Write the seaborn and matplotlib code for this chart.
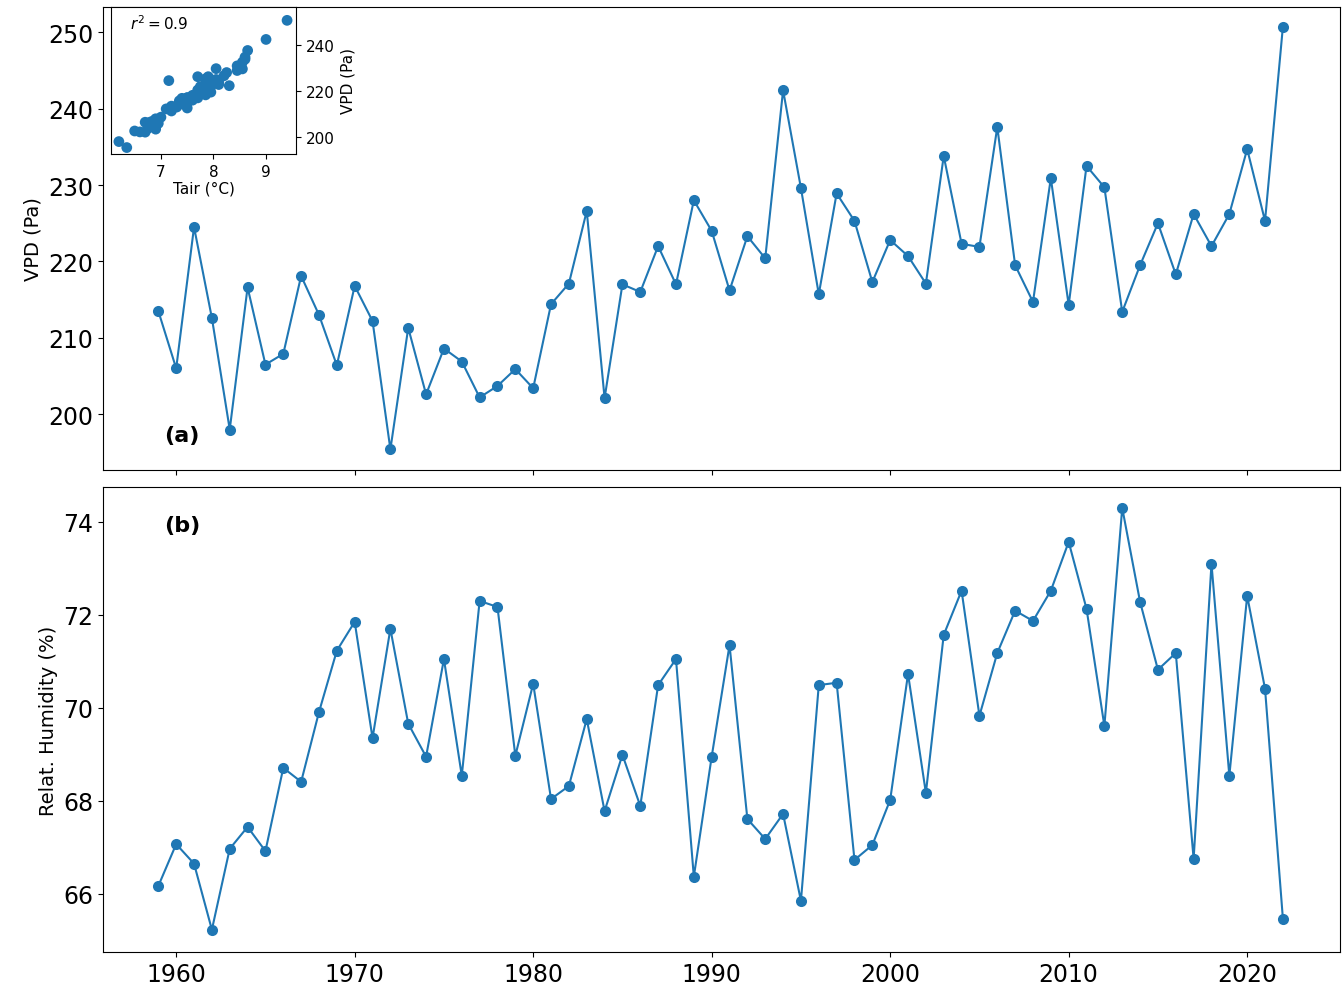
import matplotlib
matplotlib.use("Agg")
import matplotlib.pyplot as plt
import seaborn as sns
import numpy as np

years = list(range(1959, 2023))
vpd = [213.5,206.0,224.5,212.6,198.0,216.6,206.5,207.9,218.1,213.0,206.4,216.8,212.2,195.4,211.3,202.6,
       208.6,206.9,202.2,203.7,205.9,203.4,214.4,217.1,226.6,202.1,217.0,216.0,222.0,217.0,228.0,224.0,
       216.2,223.3,220.4,242.4,229.6,215.7,228.9,225.3,217.3,222.8,220.7,217.1,233.8,222.3,221.9,237.6,
       219.5,214.7,230.9,214.3,232.5,229.7,213.4,219.5,225.0,218.3,226.2,222.0,226.2,234.7,225.3,250.7]
rh = [66.17,67.07,66.65,65.23,66.97,67.44,66.92,68.71,68.41,69.91,71.23,71.85,69.35,71.70,69.66,68.95,
      71.05,68.54,72.30,72.17,68.97,70.52,68.04,68.32,69.76,67.78,68.99,67.89,70.49,71.05,66.37,68.95,
      71.35,67.61,67.18,67.72,65.85,70.49,70.54,66.73,67.05,68.02,70.73,68.17,71.57,72.52,69.83,71.18,
      72.09,71.87,72.52,73.57,72.13,69.61,74.30,72.28,70.82,71.18,66.75,73.10,68.54,72.41,70.41,65.47]
tair = [7.3,6.9,7.15,7.5,6.2,7.6,6.8,6.9,7.6,7.3,6.7,7.4,7.1,6.35,7.2,6.5,
        7.0,6.85,6.6,6.75,6.95,6.9,7.4,7.55,8.2,6.7,7.7,7.6,7.8,7.5,8.25,8.1,
        7.45,8.0,7.7,9.0,8.55,7.35,8.45,7.9,7.65,8.1,7.9,7.5,8.6,8.3,7.75,8.65,
        7.95,7.5,8.45,7.45,8.55,8.05,7.2,7.75,8.05,7.85,7.9,7.95,7.7,8.6,7.85,9.4]

sns.set_style("ticks", {"text.color": "black", "axes.labelcolor": "black",
                        "xtick.color": "black", "ytick.color": "black", "axes.edgecolor": "black"})
plt.rcParams['font.family'] = ['DejaVu Sans']
c = "#1f77b4"
fig = plt.figure(figsize=(13.43, 9.95), dpi=100)
ax1 = fig.add_axes([103/1343, 1-471/995, 1237/1343, 463/995])
ax2 = fig.add_axes([103/1343, 1-953/995, 1237/1343, 465/995], sharex=ax1)
for ax, vals, lab in [(ax1, vpd, "VPD (Pa)"), (ax2, rh, "Relat. Humidity (%)")]:
    sns.lineplot(x=years, y=vals, ax=ax, color=c, marker="o", markersize=8, markeredgewidth=0, linewidth=1.5)
    ax.set_ylabel(lab, fontsize=14)
    ax.tick_params(labelsize=17)
ax1.tick_params(labelbottom=False)
ax1.set_xlim(1955.9, 2025.2)
ax1.set_ylim(192.7, 253.3)
ax2.set_ylim(64.75, 74.75)
ax2.set_yticks([66, 68, 70, 72, 74])
ax1.text(1959.3, 196.5, "(a)", fontsize=16, fontweight="bold")
ax2.text(1959.3, 73.8, "(b)", fontsize=16, fontweight="bold")

ins = fig.add_axes([111/1343, 1-155/995, 185/1343, 147/995])
sns.scatterplot(x=tair, y=vpd, ax=ins, color=c, s=60, edgecolor="none")
ins.set_xlim(6.05, 9.57)
ins.set_ylim(192.6, 256.5)
ins.set_xticks([7, 8, 9])
ins.set_yticks([200, 220, 240])
ins.yaxis.tick_right()
ins.yaxis.set_label_position("right")
ins.set_xlabel("Tair (°C)", fontsize=11, labelpad=1)
ins.set_ylabel("VPD (Pa)", fontsize=11)
ins.tick_params(labelsize=11)
ins.text(0.1, 0.85, r"$r^2 = 0.9$", transform=ins.transAxes, fontsize=11)
fig.savefig("out.png", dpi=100)
